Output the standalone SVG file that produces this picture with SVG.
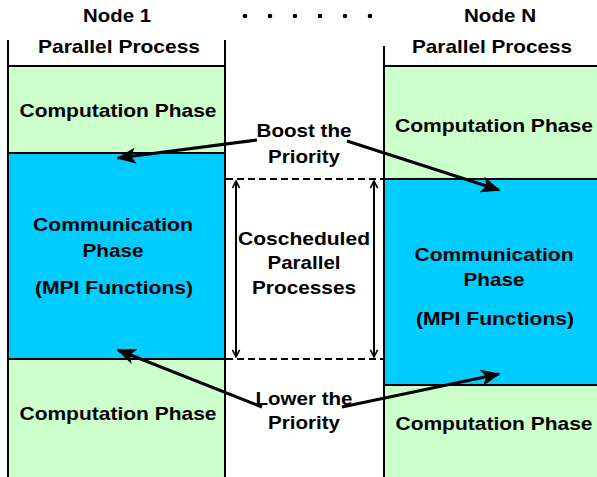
<svg xmlns="http://www.w3.org/2000/svg" width="597" height="477" viewBox="0 0 597 477">
  <style>
    text { font-family: "Liberation Sans", Arial, sans-serif; font-weight: bold; font-size: 19px; fill: #000; text-anchor: middle; }
    .green { fill: #CCFFCC; }
    .blue { fill: #00CCFF; }
    .edge { stroke: #000; stroke-width: 2; fill: none; }
    .arrow { stroke: #000; stroke-width: 3; fill: none; marker-end: url(#head); }
    .span { stroke: #000; stroke-width: 2; fill: none; marker-start: url(#thin); marker-end: url(#thin); }
    .dash { stroke: #000; stroke-width: 2; stroke-dasharray: 7 4; fill: none; }
  </style>
  <defs>
    <marker id="head" viewBox="0 0 12 10" refX="11" refY="5" markerWidth="6.5" markerHeight="5.5" orient="auto" markerUnits="strokeWidth">
      <path d="M0,0 L12,5 L0,10 L3,5 Z" fill="#000"/>
    </marker>
    <marker id="thin" viewBox="0 0 10 10" refX="9" refY="5" markerWidth="9" markerHeight="9" orient="auto-start-reverse" markerUnits="userSpaceOnUse">
      <path d="M1,1 L9,5 L1,9" fill="none" stroke="#000" stroke-width="1.8"/>
    </marker>
  </defs>

  <rect width="597" height="477" fill="#fff"/>

  <!-- headings -->
  <text x="117" y="22" textLength="68" lengthAdjust="spacingAndGlyphs">Node 1</text>
  <text x="119" y="53" textLength="162" lengthAdjust="spacingAndGlyphs">Parallel Process</text>
  <text x="500" y="22" textLength="72" lengthAdjust="spacingAndGlyphs">Node N</text>
  <text x="492" y="53" textLength="160" lengthAdjust="spacingAndGlyphs">Parallel Process</text>
  <g id="ellipsis" fill="#000">
    <circle cx="245" cy="16" r="2.3"/>
    <circle cx="270" cy="16" r="2.3"/>
    <circle cx="295" cy="16" r="2.3"/>
    <circle cx="320" cy="16" r="2.3"/>
    <circle cx="345" cy="16" r="2.3"/>
    <circle cx="370" cy="16" r="2.3"/>
  </g>

  <!-- node 1 -->
  <g id="node1">
    <rect class="green" x="8" y="66" width="217" height="87"/>
    <rect class="blue" x="8" y="153" width="217" height="206"/>
    <rect class="green" x="8" y="359" width="217" height="118"/>
    <path class="edge" d="M8,40 V477 M225,40 V477 M8,66 H225 M8,153 H225 M8,359 H225"/>
    <text x="118" y="117" textLength="197" lengthAdjust="spacingAndGlyphs">Computation Phase</text>
    <text x="113" y="231" textLength="160" lengthAdjust="spacingAndGlyphs">Communication</text>
    <text x="113" y="257" textLength="61" lengthAdjust="spacingAndGlyphs">Phase</text>
    <text x="114" y="294" textLength="158" lengthAdjust="spacingAndGlyphs">(MPI Functions)</text>
    <text x="118" y="420" textLength="197" lengthAdjust="spacingAndGlyphs">Computation Phase</text>
  </g>

  <!-- node N -->
  <g id="nodeN">
    <rect class="green" x="384" y="66" width="213" height="113"/>
    <rect class="blue" x="384" y="179" width="213" height="206"/>
    <rect class="green" x="384" y="385" width="213" height="92"/>
    <path class="edge" d="M384,46 V477 M384,66 H597 M384,179 H597 M384,385 H597"/>
    <text x="494" y="132" textLength="198" lengthAdjust="spacingAndGlyphs">Computation Phase</text>
    <text x="494" y="261" textLength="159" lengthAdjust="spacingAndGlyphs">Communication</text>
    <text x="494" y="286" textLength="61" lengthAdjust="spacingAndGlyphs">Phase</text>
    <text x="495" y="325" textLength="158" lengthAdjust="spacingAndGlyphs">(MPI Functions)</text>
    <text x="494" y="430" textLength="197" lengthAdjust="spacingAndGlyphs">Computation Phase</text>
  </g>

  <!-- coscheduled window -->
  <g id="cosched">
    <path class="dash" d="M226,179 H384 M226,359 H384"/>
    <text x="304" y="245" textLength="132" lengthAdjust="spacingAndGlyphs">Coscheduled</text>
    <text x="304" y="269" textLength="73" lengthAdjust="spacingAndGlyphs">Parallel</text>
    <text x="304" y="294" textLength="104" lengthAdjust="spacingAndGlyphs">Processes</text>
  </g>

  <!-- priority labels -->
  <g id="boost">
    <text x="304" y="137" textLength="95" lengthAdjust="spacingAndGlyphs">Boost the</text>
    <text x="304" y="163" textLength="72" lengthAdjust="spacingAndGlyphs">Priority</text>
  </g>
  <g id="lower">
    <text x="304" y="405" textLength="97" lengthAdjust="spacingAndGlyphs">Lower the</text>
    <text x="304" y="429" textLength="72" lengthAdjust="spacingAndGlyphs">Priority</text>
  </g>

  <!-- connectors -->
  <g id="connectors">
    <line class="arrow" x1="257" y1="140" x2="118" y2="158"/>
    <line class="arrow" x1="347" y1="141" x2="499" y2="190"/>
    <line class="arrow" x1="262" y1="407" x2="118" y2="350"/>
    <line class="arrow" x1="342" y1="407" x2="499" y2="374"/>
    <line class="span" x1="236" y1="181" x2="236" y2="357"/>
    <line class="span" x1="374" y1="181" x2="374" y2="357"/>
  </g>
</svg>
